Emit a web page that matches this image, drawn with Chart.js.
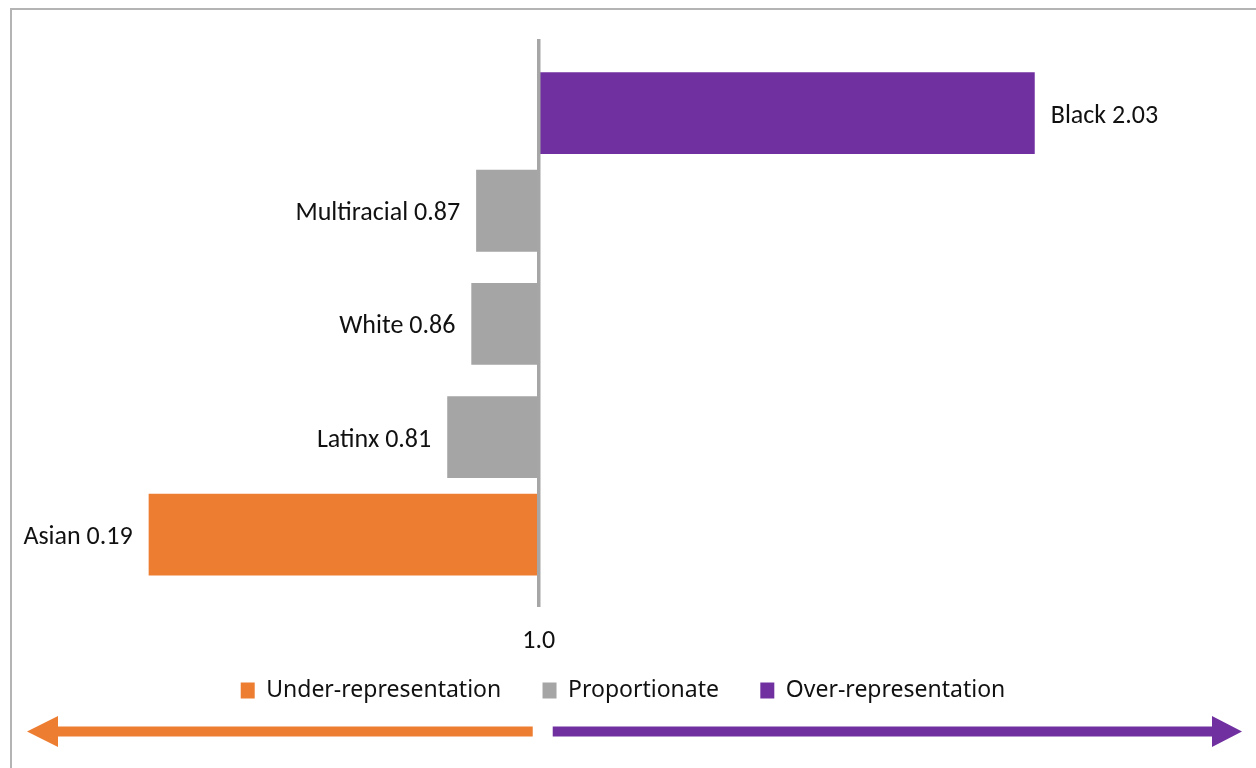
<!DOCTYPE html>
<html>
<head>
<meta charset="utf-8">
<script src="https://cdn.jsdelivr.net/npm/chart.js@4.4.1/dist/chart.umd.min.js"></script>
<style>
    html, body { margin: 0; padding: 0; background: #fff; }
    body { width: 1256px; height: 768px; overflow: hidden; position: relative; }
    #frame { position: absolute; left: 10px; top: 8px; right: -10px; bottom: -10px; border-left: 2px solid #b4b4b4; border-top: 2px solid #b4b4b4; }
    #wrap { position: absolute; left: 0; top: 0; width: 1256px; height: 768px; }
</style>
</head>
<body>
<div id="frame"></div>
<div id="wrap"><canvas id="ratioChart"></canvas></div>
<script>
const categories = ['Black', 'Multiracial', 'White', 'Latinx', 'Asian'];
const ratios = [2.03, 0.87, 0.86, 0.81, 0.19];
const groups = ['over', 'prop', 'prop', 'prop', 'under'];
const seriesKeys = ['under', 'prop', 'over'];
const seriesNames = ['Under-representation', 'Proportionate', 'Over-representation'];
const seriesColors = ['#ED7D31', '#A5A5A5', '#7030A0'];
const baseline = 1.0;
const xTickValues = [1.0];

const labelFont = { family: 'Carlito, Lato, sans-serif', size: 26 };
const legendFont = { family: '"Noto Sans", sans-serif', size: 23 };

// one dataset per group, floating from the 1.0 baseline, null elsewhere
const datasets = seriesKeys.map((key, s) => ({
    label: seriesNames[s],
    data: ratios.map((v, i) => groups[i] === key ? [baseline, v] : null),
    backgroundColor: seriesColors[s],
    borderWidth: 0,
    categoryPercentage: 0.413,
    barPercentage: 5.25
}));

const barLabels = {
    id: 'barLabels',
    afterDatasetsDraw(chart) {
        const ctx = chart.ctx;
        const xs = chart.scales.x;
        ctx.save();
        ctx.font = `${labelFont.size}px ${labelFont.family}`;
        ctx.fillStyle = '#111';
        ctx.textBaseline = 'middle';
        chart.data.datasets.forEach((ds, d) => {
            const meta = chart.getDatasetMeta(d);
            meta.data.forEach((bar, i) => {
                if (!ds.data[i]) return;
                const txt = `${categories[i]} ${ratios[i].toFixed(2)}`;
                const end = xs.getPixelForValue(ratios[i]);
                if (ratios[i] > baseline) {
                    ctx.textAlign = 'left';
                    ctx.fillText(txt, end + 16, bar.y + 3);
                } else {
                    ctx.textAlign = 'right';
                    ctx.fillText(txt, end - 16, bar.y + 3);
                }
            });
        });
        ctx.restore();
    },
    afterDraw(chart) {
        // direction arrows under the legend
        const ctx = chart.ctx;
        const mid = chart.scales.x.getPixelForValue(baseline);
        const y = 731.5;
        const half = 5;
        const head = 15.5;
        ctx.save();
        ctx.fillStyle = seriesColors[0];
        ctx.beginPath();
        ctx.moveTo(mid - 6, y - half);
        ctx.lineTo(58, y - half);
        ctx.lineTo(58, y - head);
        ctx.lineTo(27, y);
        ctx.lineTo(58, y + head);
        ctx.lineTo(58, y + half);
        ctx.lineTo(mid - 6, y + half);
        ctx.closePath();
        ctx.fill();
        ctx.fillStyle = seriesColors[2];
        ctx.beginPath();
        ctx.moveTo(mid + 14, y - half);
        ctx.lineTo(1212, y - half);
        ctx.lineTo(1212, y - head);
        ctx.lineTo(1242, y);
        ctx.lineTo(1212, y + head);
        ctx.lineTo(1212, y + half);
        ctx.lineTo(mid + 14, y + half);
        ctx.closePath();
        ctx.fill();
        ctx.restore();
    }
};

const ctx = document.getElementById('ratioChart').getContext('2d');
new Chart(ctx, {
    type: 'bar',
    data: { labels: categories, datasets },
    options: {
        indexAxis: 'y',
        responsive: true,
        maintainAspectRatio: false,
        animation: false,
        devicePixelRatio: 1,
        layout: { padding: { top: 41, bottom: 56, left: 9, right: 19 } },
        scales: {
            x: {
                min: -0.1,
                max: 2.45,
                grid: { display: false, drawTicks: false },
                border: { display: false },
                afterBuildTicks: (scale) => { scale.ticks = xTickValues.map(v => ({ value: v })); },
                ticks: {
                    padding: 19,
                    color: '#111',
                    font: labelFont,
                    callback: (v) => Number(v).toFixed(1)
                }
            },
            y: {
                position: { x: baseline },
                grid: { display: false, drawTicks: false },
                border: { display: true, color: '#a6a6a6', width: 3.5, z: 1 },
                ticks: { display: false }
            }
        },
        plugins: {
            legend: {
                position: 'bottom',
                labels: {
                    color: '#111',
                    font: legendFont,
                    boxWidth: 14,
                    boxHeight: 16,
                    padding: 3,
                    generateLabels: (chart) => {
                        const items = Chart.defaults.plugins.legend.labels.generateLabels(chart);
                        // extra room between items, like the original spacing
                        items.forEach((it, i) => { if (i < items.length - 1) it.text += '\u2003\u2002\u2009'; });
                        return items;
                    }
                }
            },
            tooltip: { enabled: false }
        }
    },
    plugins: [barLabels]
});
</script>
</body>
</html>
